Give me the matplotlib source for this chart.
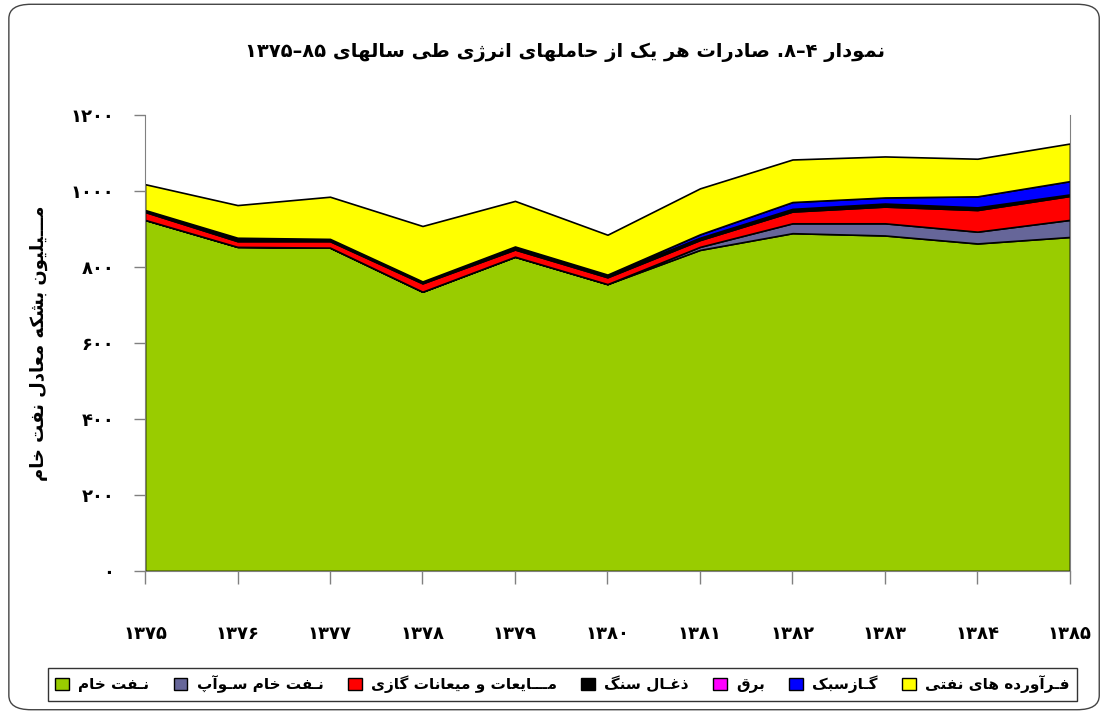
import re
import matplotlib
matplotlib.use("Agg")
import matplotlib.pyplot as plt
from matplotlib.patches import FancyBboxPatch, Patch

# --- data (million barrels of crude-oil equivalent) ---
years = [1375, 1376, 1377, 1378, 1379, 1380, 1381, 1382, 1383, 1384, 1385]
crude_oil = [924, 853, 851, 735, 827, 755, 845, 889, 883, 862, 879]
swap_crude = [0, 0, 0, 0, 0, 0, 8, 26, 32, 31, 45]
gas_liquids = [21, 15, 17, 22, 19, 18, 18, 31, 44, 57, 63]
coal = [4, 8, 5, 4, 7, 6, 5, 6, 7, 6, 3]
electricity = [1, 1, 1, 1, 1, 1, 1, 1, 1, 1, 1]
natural_gas = [0, 0, 0, 0, 0, 0, 9, 18, 16, 29, 35]
oil_products = [68, 86, 111, 146, 120, 105, 121, 112, 108, 99, 99]

series_names = ["نـفت خام", "نـفت خام سـوآپ", "مـــایعات و میعانات گازی",
                "ذغـال سنگ", "برق", "گـازسبک", "فـرآورده های نفتی"]
series_colors = ["#99CC00", "#666699", "#FF0000", "#000000",
                 "#FF00FF", "#0000FF", "#FFFF00"]
y_ticks = [0, 200, 400, 600, 800, 1000, 1200]

title = "نمودار ۴–۸. صادرات هر یک از حاملهای انرژی طی سالهای ۸۵–۱۳۷۵"
y_label = "مـــیلیون بشکه معادل نفت خام"

# --- minimal Persian shaping (matplotlib has no RTL layout) ---
FORMS = {
    "ا": ("\uFE8D", "\uFE8E", None, None), "آ": ("\uFE81", "\uFE82", None, None),
    "ب": ("\uFE8F", "\uFE90", "\uFE91", "\uFE92"), "پ": ("\uFB56", "\uFB57", "\uFB58", "\uFB59"),
    "ت": ("\uFE95", "\uFE96", "\uFE97", "\uFE98"), "ح": ("\uFEA1", "\uFEA2", "\uFEA3", "\uFEA4"),
    "خ": ("\uFEA5", "\uFEA6", "\uFEA7", "\uFEA8"), "د": ("\uFEA9", "\uFEAA", None, None),
    "ذ": ("\uFEAB", "\uFEAC", None, None), "ر": ("\uFEAD", "\uFEAE", None, None),
    "ز": ("\uFEAF", "\uFEB0", None, None), "ژ": ("\uFB8A", "\uFB8B", None, None),
    "س": ("\uFEB1", "\uFEB2", "\uFEB3", "\uFEB4"), "ش": ("\uFEB5", "\uFEB6", "\uFEB7", "\uFEB8"),
    "ص": ("\uFEB9", "\uFEBA", "\uFEBB", "\uFEBC"), "ط": ("\uFEC1", "\uFEC2", "\uFEC3", "\uFEC4"),
    "ع": ("\uFEC9", "\uFECA", "\uFECB", "\uFECC"), "غ": ("\uFECD", "\uFECE", "\uFECF", "\uFED0"),
    "ف": ("\uFED1", "\uFED2", "\uFED3", "\uFED4"), "ق": ("\uFED5", "\uFED6", "\uFED7", "\uFED8"),
    "ک": ("\uFB8E", "\uFB8F", "\uFB90", "\uFB91"), "گ": ("\uFB92", "\uFB93", "\uFB94", "\uFB95"),
    "ل": ("\uFEDD", "\uFEDE", "\uFEDF", "\uFEE0"), "م": ("\uFEE1", "\uFEE2", "\uFEE3", "\uFEE4"),
    "ن": ("\uFEE5", "\uFEE6", "\uFEE7", "\uFEE8"), "ه": ("\uFEE9", "\uFEEA", "\uFEEB", "\uFEEC"),
    "و": ("\uFEED", "\uFEEE", None, None), "ی": ("\uFBFC", "\uFBFD", "\uFBFE", "\uFBFF"),
    "ـ": ("ـ", "ـ", "ـ", "ـ"),
}


def dual(c):
    return c in FORMS and FORMS[c][2] is not None


def rtl(text):
    out = []
    for i, c in enumerate(text):
        if c not in FORMS:
            out.append(c)
            continue
        prev = text[i - 1] if i > 0 else ""
        nxt = text[i + 1] if i + 1 < len(text) else ""
        jp = dual(prev)
        jn = dual(c) and nxt in FORMS
        iso, fin, ini, med = FORMS[c]
        if jp and jn:
            out.append(med)
        elif jp:
            out.append(fin)
        elif jn:
            out.append(ini)
        else:
            out.append(iso)
    vis = "".join(out)[::-1]
    return re.sub(r"[0-9۰-۹]+", lambda m: m.group(0)[::-1], vis)


def fa_digits(n):
    return str(n).translate(str.maketrans("0123456789", "۰۱۲۳۴۵۶۷۸۹"))


plt.rcParams["font.family"] = ["DejaVu Sans"]
plt.rcParams["font.weight"] = "bold"

fig = plt.figure(figsize=(11.07, 7.14), dpi=100)
fig.patches.append(FancyBboxPatch((0.008, 0.006), 0.985, 0.988,
                                  boxstyle="round,pad=0,rounding_size=0.02",
                                  transform=fig.transFigure, facecolor="white",
                                  edgecolor="#444444", linewidth=1.0, zorder=-1))

ax = fig.add_axes([0.131, 0.2003, 0.8355, 0.6386])
ax.stackplot(years, crude_oil, swap_crude, gas_liquids, coal, electricity,
             natural_gas, oil_products, colors=series_colors,
             edgecolor="black", linewidth=1.2)

ax.set_xlim(years[0], years[-1])
ax.set_ylim(0, 1200)
ax.set_yticks(y_ticks)
ax.set_yticklabels([fa_digits(v) for v in y_ticks], fontsize=13, fontweight="bold")
ax.set_xticks(years)
ax.set_xticklabels([fa_digits(y) for y in years], fontsize=13, fontweight="bold")
ax.tick_params(axis="y", length=8, width=1, color="#808080", pad=14)
ax.tick_params(axis="x", length=9, width=1, color="#808080", pad=30)

ax.spines["top"].set_visible(False)
for side in ["left", "right", "bottom"]:
    ax.spines[side].set_color("#808080")

ax.set_ylabel(rtl(y_label), fontsize=13, fontweight="bold", labelpad=16)

fig.text(0.51, 0.927, rtl(title), ha="center", va="center",
         fontsize=14, fontweight="bold")

handles = [Patch(facecolor=c, edgecolor="black", linewidth=1) for c in series_colors]
leg = fig.legend(handles, [rtl(n) for n in series_names], loc="center",
                 bbox_to_anchor=(0.508, 0.0415), ncol=7, fontsize=11,
                 frameon=True, fancybox=False, edgecolor="black",
                 handlelength=0.9, handleheight=0.9, handletextpad=0.6,
                 columnspacing=1.6, borderpad=0.5)
leg.get_frame().set_linewidth(1.0)
for t in leg.get_texts():
    t.set_fontweight("bold")

fig.savefig("out.png", dpi=100)
